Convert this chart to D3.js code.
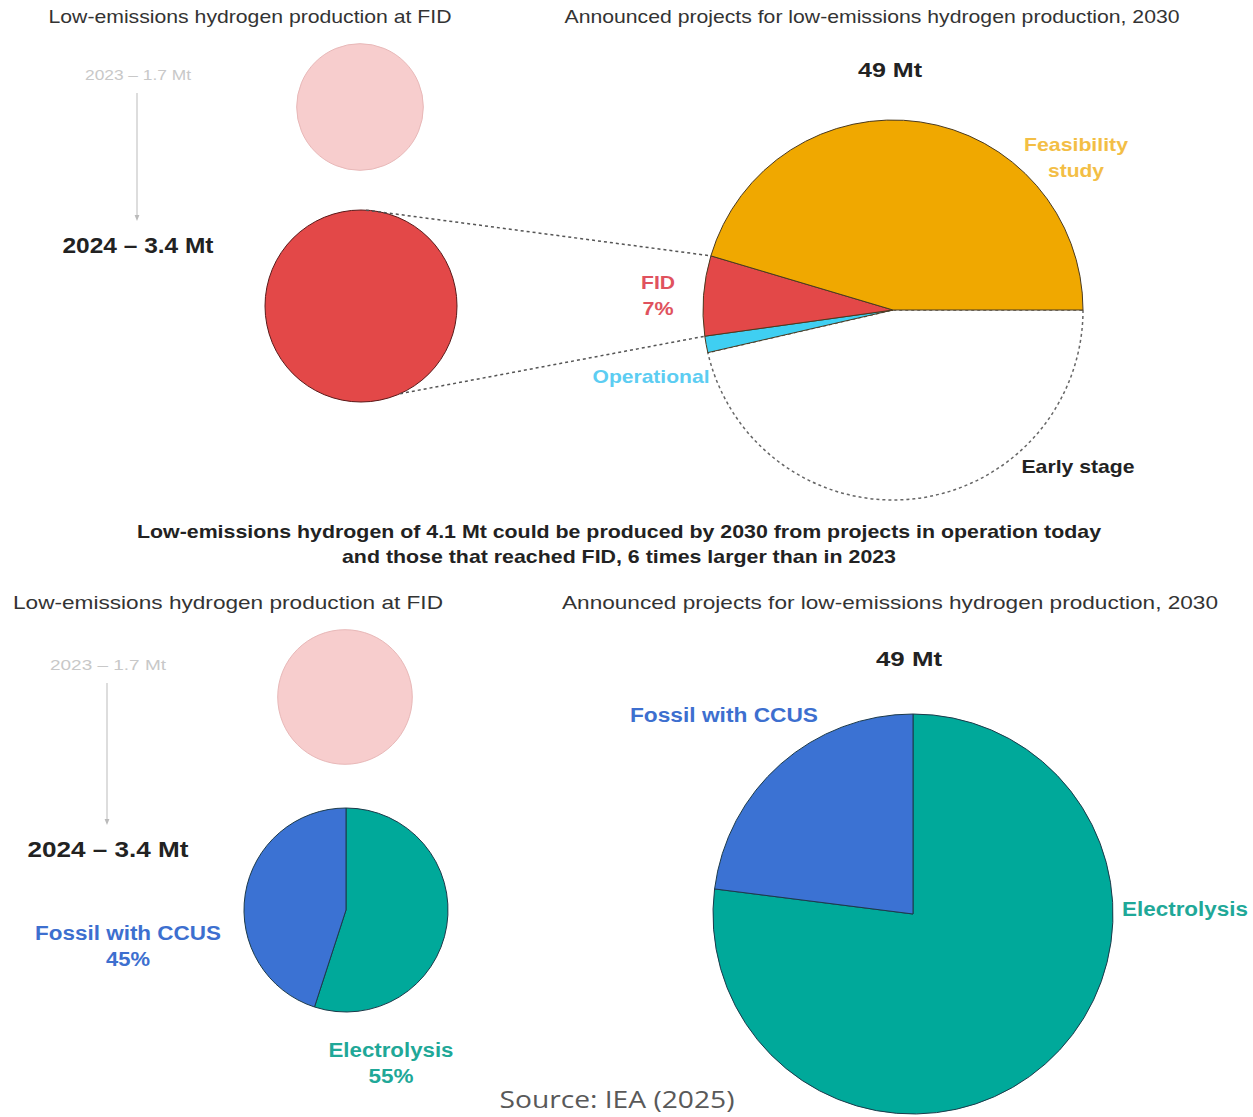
<!DOCTYPE html>
<html>
<head>
<meta charset="utf-8">
<script src="https://cdn.jsdelivr.net/npm/d3@7"></script>
<style>
  body { margin: 0; background: #fff; }
</style>
</head>
<body>
<div id="chart"></div>
<script>
// ---- data ----
var fidYears = ["2023", "2024"];
var fidVolumes = [1.7, 3.4];          // Mt at FID
var announcedTotal = 49;              // Mt announced for 2030

var stageNames = ["Early stage", "Operational", "FID", "Feasibility study"];
var stageShares = [46.4, 1.4, 6.8, 45.4];
var stageColors = ["#ffffff", "#3fcff2", "#e34848", "#f0a800"];

var routeNames = ["Electrolysis", "Fossil with CCUS"];
var fidRouteShares = [55, 45];
var announcedRouteShares = [77, 23];
var routeColors = ["#00a99a", "#3b72d3"];

var width = 1253, height = 1117;
var FONT = "'Liberation Sans', Arial, sans-serif";

var svg = d3.select("#chart").append("svg")
    .attr("width", width)
    .attr("height", height)
    .style("font-family", FONT);

svg.append("rect").attr("width", width).attr("height", height).attr("fill", "#fff");

// arrow marker
svg.append("defs").append("marker")
    .attr("id", "arrow")
    .attr("viewBox", "0 0 10 10")
    .attr("refX", 5).attr("refY", 5)
    .attr("markerWidth", 6).attr("markerHeight", 6)
    .attr("orient", "auto")
    .append("path")
    .attr("d", "M0,1 L10,5 L0,9 Z")
    .attr("fill", "#bbb");

// circle size scale shared by both panels
var rScale = d3.scalePow().exponent(0.6).domain([0, 3.4]);

// generic text helper; w = target width (textLength)
function txt(x, y, s, o){
    var t = svg.append("text")
        .attr("x", x).attr("y", y)
        .attr("text-anchor", "middle")
        .attr("font-size", o.size || 19)
        .attr("font-weight", o.bold ? "bold" : "normal")
        .attr("fill", o.color || "#333")
        .text(s);
    if (o.w) t.attr("textLength", o.w).attr("lengthAdjust", "spacingAndGlyphs");
    return t;
}

// multi-line bold label, widths per line
function label(x, y, lines, widths, color, size){
    lines.forEach(function(l, i){
        txt(x, y + i * 26, l, {size: size || 19, bold: true, color: color, w: widths[i]});
    });
}

// left-hand "at FID" block, returns the 2024 circle geometry
function fidBlock(o){
    rScale.range([0, o.r]);
    txt(o.titleX, o.titleY, "Low-emissions hydrogen production at FID", {size: 19, w: o.titleW});

    txt(o.labelX, o.cy2023 - 27, fidYears[0] + " \u2013 " + fidVolumes[0] + " Mt",
        {size: 14, color: "#c8c8c8", w: o.w2023});

    svg.append("line")
        .attr("x1", o.labelX - 1).attr("x2", o.labelX - 1)
        .attr("y1", o.cy2023 - 14).attr("y2", o.cy2024 - 88)
        .attr("stroke", "#bbb").attr("stroke-width", 1)
        .attr("marker-end", "url(#arrow)");

    txt(o.labelX, o.cy2024 - 53, fidYears[1] + " \u2013 " + fidVolumes[1] + " Mt",
        {size: 22, bold: true, color: "#222", w: o.w2024});

    svg.append("circle")
        .attr("cx", o.cx2023).attr("cy", o.cy2023)
        .attr("r", rScale(fidVolumes[0]))
        .attr("fill", "#f7cdcd")
        .attr("stroke", "#e8b8b8").attr("stroke-width", 1);

    return {cx: o.cx2024, cy: o.cy2024, r: rScale(fidVolumes[1])};
}

// ================= TOP PANEL =================
var top1 = fidBlock({titleX: 250, titleY: 23, titleW: 403, r: 96, labelX: 138,
    w2023: 106, w2024: 151,
    cx2023: 360, cy2023: 107, cx2024: 361, cy2024: 306});

svg.append("circle")
    .attr("cx", top1.cx).attr("cy", top1.cy).attr("r", top1.r)
    .attr("fill", "#e34848")
    .attr("stroke", "#5a1a1a").attr("stroke-width", 1);

txt(872, 23, "Announced projects for low-emissions hydrogen production, 2030", {size: 19, w: 615});

var pieTop = {cx: 893, cy: 310, r: 190};
txt(890, 77, announcedTotal + " Mt", {size: 21, bold: true, color: "#222", w: 64});

var stagePie = d3.pie().sort(null)
    .startAngle(Math.PI / 2).endAngle(Math.PI * 2.5)
    .value(function(d){ return d; });
var stageArcs = stagePie(stageShares);
var arcTop = d3.arc().innerRadius(0).outerRadius(pieTop.r);

var gTop = svg.append("g")
    .attr("transform", "translate(" + pieTop.cx + "," + pieTop.cy + ")");

gTop.selectAll("path.stage")
    .data(stageArcs)
    .enter().append("path")
    .attr("class", "stage")
    .attr("d", arcTop)
    .attr("fill", function(d, i){ return stageColors[i]; })
    .attr("stroke", function(d, i){ return i === 0 ? "#666" : "#4a3a20"; })
    .attr("stroke-width", function(d, i){ return i === 0 ? 1.5 : 1; })
    .attr("stroke-dasharray", function(d, i){ return i === 0 ? "3,3" : null; });

// bring the solid slices above the dashed early-stage outline
gTop.selectAll("path.stage").filter(function(d, i){ return i > 0; }).raise();

// connector lines from the 2024 circle to the FID slice
function arcPoint(angle, r){
    return [pieTop.cx + r * Math.sin(angle), pieTop.cy - r * Math.cos(angle)];
}
var fidArc = stageArcs[2];
var pUp = arcPoint(fidArc.endAngle, pieTop.r);
var pLow = arcPoint(fidArc.startAngle, pieTop.r);
var cUp = [top1.cx + top1.r * Math.cos(-87 * Math.PI / 180), top1.cy + top1.r * Math.sin(-87 * Math.PI / 180)];
var cLow = [top1.cx + top1.r * Math.cos(66 * Math.PI / 180), top1.cy + top1.r * Math.sin(66 * Math.PI / 180)];

[[cUp, pUp], [cLow, pLow]].forEach(function(seg){
    svg.append("line")
        .attr("x1", seg[0][0]).attr("y1", seg[0][1])
        .attr("x2", seg[1][0]).attr("y2", seg[1][1])
        .attr("stroke", "#555").attr("stroke-width", 1.5)
        .attr("stroke-dasharray", "3,3");
});

// stage labels
label(1076, 151, ["Feasibility", "study"], [104, 56], "#f3be45");
label(658, 289, ["FID", Math.round(stageShares[2]) + "%"], [34, 31], "#e0525e");
label(651, 383, ["Operational"], [117], "#5ccdf2");
label(1078, 473, ["Early stage"], [113], "#222");

// ================= MIDDLE TEXT =================
txt(619, 538, "Low-emissions hydrogen of 4.1 Mt could be produced by 2030 from projects in operation today",
    {size: 19, bold: true, color: "#222", w: 964});
txt(619, 563, "and those that reached FID, 6 times larger than in 2023",
    {size: 19, bold: true, color: "#222", w: 554});

// ================= BOTTOM PANEL =================
var bot1 = fidBlock({titleX: 228, titleY: 609, titleW: 430, r: 102, labelX: 108,
    w2023: 116, w2024: 161,
    cx2023: 345, cy2023: 697, cx2024: 346, cy2024: 910});

var routePie = d3.pie().sort(null).value(function(d){ return d; });

var gBotL = svg.append("g")
    .attr("transform", "translate(" + bot1.cx + "," + bot1.cy + ")");
gBotL.selectAll("path")
    .data(routePie(fidRouteShares))
    .enter().append("path")
    .attr("d", d3.arc().innerRadius(0).outerRadius(bot1.r))
    .attr("fill", function(d, i){ return routeColors[i]; })
    .attr("stroke", "#1c3a4a").attr("stroke-width", 1);

label(128, 940, [routeNames[1], fidRouteShares[1] + "%"], [186, 44], "#3d6fcf", 20);
label(391, 1057, [routeNames[0], fidRouteShares[0] + "%"], [125, 45], "#1fa898", 20);

txt(890, 609, "Announced projects for low-emissions hydrogen production, 2030", {size: 19, w: 656});
txt(909, 666, announcedTotal + " Mt", {size: 21, bold: true, color: "#222", w: 66});

var gBotR = svg.append("g")
    .attr("transform", "translate(913,914)");
gBotR.selectAll("path")
    .data(routePie(announcedRouteShares))
    .enter().append("path")
    .attr("d", d3.arc().innerRadius(0).outerRadius(200))
    .attr("fill", function(d, i){ return routeColors[i]; })
    .attr("stroke", "#1c3a4a").attr("stroke-width", 1);

label(724, 722, [routeNames[1]], [188], "#3d6fcf", 20);
label(1185, 916, [routeNames[0]], [126], "#1fa898", 20);

// source
txt(617, 1108, "Source: IEA (2025)", {size: 24, color: "#595959", w: 235})
    .style("font-family", "'Open Sans', sans-serif");
</script>
</body>
</html>
